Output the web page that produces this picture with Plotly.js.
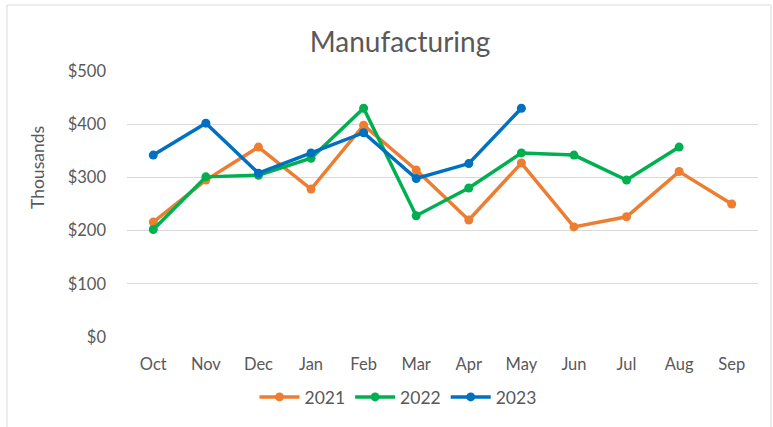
<!DOCTYPE html>
<html>
<head>
<meta charset="utf-8">
<script src="https://cdn.plot.ly/plotly-3.0.1.min.js"></script>
<style>html,body{margin:0;padding:0;background:#fff;}#chart{width:773px;height:427px;}</style>
</head>
<body>
<div id="chart"></div>
<script>
const months = ["Oct","Nov","Dec","Jan","Feb","Mar","Apr","May","Jun","Jul","Aug","Sep"];
const y2021 = [216, 295, 357, 278, 398, 314, 220, 327, 207, 226, 311, 250];
const y2022 = [202, 301, 304, 336, 430, 228, 280, 346, 342, 295, 357];
const y2023 = [342, 402, 308, 346, 384, 298, 326, 430];
const yTicks = [0, 100, 200, 300, 400, 500];
const yTickText = ["$0","$100","$200","$300","$400","$500"];

function series(name, ys, color){
  return {
    type: "scatter", mode: "lines+markers", name: name,
    x: months.slice(0, ys.length), y: ys,
    line: {color: color, width: 3.5},
    marker: {color: color, size: 9, symbol: "circle"}
  };
}
const data = [
  series("2021", y2021, "#ED7D31"),
  series("2022", y2022, "#00B050"),
  series("2023", y2023, "#0070C0")
];
const font = "Lato, 'Open Sans', sans-serif";
const layout = {
  width: 773, height: 427,
  margin: {l: 127, r: 15, t: 71, b: 90},
  paper_bgcolor: "#ffffff", plot_bgcolor: "#ffffff",
  font: {family: font, color: "#595959", size: 17},
  title: {text: "Manufacturing", font: {size: 28, color: "#595959", family: font},
          x: 400/773, xanchor: "center", xref: "container", y: 1 - 42/427, yanchor: "middle", yref: "container"},
  xaxis: {
    type: "category", categoryorder: "array", categoryarray: months,
    range: [-0.5, 11.5], showgrid: false, zeroline: false, showline: false,
    ticks: "", ticklabelstandoff: 15, tickfont: {size: 16.5, color: "#595959"}
  },
  yaxis: {
    range: [0, 500], tickvals: yTicks, ticktext: yTickText,
    showgrid: true, gridcolor: "#d9d9d9", gridwidth: 1, zeroline: false, showline: false,
    ticks: "", ticklabelstandoff: 20, tickfont: {size: 16.5, color: "#595959"}
  },
  annotations: [{text: "Thousands", textangle: -90, xref: "paper", yref: "paper",
                 x: (37-127)/631, y: (337-168)/266, xanchor: "center", yanchor: "middle",
                 showarrow: false, font: {size: 17.5, color: "#595959", family: font}}],
  showlegend: true,
  legend: {orientation: "h", xref: "container", yref: "container", x: 398/773, xanchor: "center",
           y: 1 - 397/427, yanchor: "middle", font: {size: 17.5, color: "#595959"},
           itemwidth: 40, tracegroupgap: 0, bgcolor: "rgba(0,0,0,0)"},
  shapes: [{type: "rect", xref: "paper", yref: "paper",
            x0: (7-127)/631, x1: (771-127)/631, y0: (337-432)/266, y1: (337-5)/266,
            line: {color: "#d9d9d9", width: 1}, fillcolor: "rgba(0,0,0,0)", layer: "below"}]
};
Plotly.newPlot("chart", data, layout, {displayModeBar: false, staticPlot: true});
</script>
</body>
</html>
